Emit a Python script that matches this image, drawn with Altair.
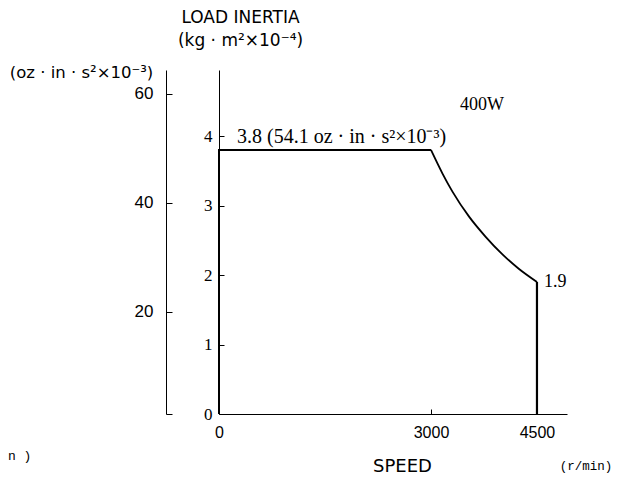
import altair as alt
import pandas as pd

# ---- data ----
# envelope: left edge, flat top, falling curve, right edge
speed = [0, 0, 3000, 3163, 3304, 3539, 3774, 4008, 4242, 4500, 4500]
inertia = [0, 3.8, 3.8, 3.46, 3.20, 2.84, 2.55, 2.30, 2.09, 1.9, 0]
curve_first, curve_last = 2, 9   # indices of the curved part

x_ticks = [0, 3000, 4500]
kg_ticks = [0, 1, 2, 3, 4]
oz_ticks = [1.28, 20, 40, 60]

note_texts = ["3.8 (54.1 oz · in · s²×10⁻³)", "400W", "1.9", "(r/min)", "n )"]
note_speed = [255, 3722, 4500, 5193, -2986]
note_inertia = [3.99, 4.45, 1.9, -0.75, -0.60]
note_fonts = ["Liberation Serif", "Liberation Serif", "Liberation Serif", "Liberation Mono", "Liberation Mono"]
note_sizes = [20, 18, 18, 12.5, 13]
note_align = ["left", "center", "left", "center", "left"]
note_dx = [0, 0, 7, 0, 0]

X_DOMAIN = [0, 4925]
KG_DOMAIN = [0, 4.95]
OZ_DOMAIN = [1.28, 64.4]

W, H = 348, 344

xscale = alt.Scale(domain=X_DOMAIN, nice=False, zero=False)
kgscale = alt.Scale(domain=KG_DOMAIN, nice=False, zero=False)
ozscale = alt.Scale(domain=OZ_DOMAIN, nice=False, zero=False)

idx = list(range(len(speed)))
part = ["curve" if curve_first <= i <= curve_last else "edge" for i in idx]
env_df = pd.DataFrame({"speed": speed, "inertia": inertia, "i": idx, "part": part})

x_axis = alt.Axis(
    orient="top", offset=-H, values=x_ticks, tickSize=5, labelPadding=-23,
    labelBaseline="middle", labelAlign="center", labelFlush=False, labelOverlap=False,
    labelFont="Liberation Sans", labelFontSize=16, labelColor="black", format="d",
    domainColor="black", tickColor="black", grid=False,
    title="SPEED", titleX=183, titleY=52, titleAlign="center", titleBaseline="middle",
    titleAngle=0, titleFont="DejaVu Sans", titleFontSize=18, titleFontWeight="normal",
    titleColor="black",
)

kg_axis = alt.Axis(
    orient="right", offset=-W, values=kg_ticks, tickSize=5, labelPadding=-12,
    labelAlign="right", labelBaseline="middle", labelFlush=False, labelOverlap=False,
    labelFont="Liberation Serif", labelFontSize=17, labelColor="black", format="d",
    domainColor="black", tickColor="black", grid=False,
    title=["LOAD INERTIA", "(kg · m²×10⁻⁴)"], titleAngle=0, titleX=21, titleY=-61,
    titleAlign="center", titleBaseline="top", titleLineHeight=23,
    titleFont="DejaVu Sans", titleFontSize=17, titleFontWeight="normal", titleColor="black",
)

oz_axis = alt.Axis(
    orient="right", offset=-(W + 53), values=oz_ticks, tickSize=6, labelPadding=-19,
    labelAlign="right", labelBaseline="middle", labelFlush=False, labelOverlap=False,
    labelExpr="datum.value < 10 ? '' : datum.label",
    labelFont="Liberation Sans", labelFontSize=17, labelColor="black", format="d",
    domainColor="black", tickColor="black", grid=False,
    title="(oz · in · s²×10⁻³)", titleAngle=0, titleX=-85, titleY=2,
    titleAlign="center", titleBaseline="middle",
    titleFont="DejaVu Sans", titleFontSize=16.5, titleFontWeight="normal", titleColor="black",
)

base = alt.Chart(env_df).encode(
    x=alt.X("speed:Q", scale=xscale, axis=x_axis),
    y=alt.Y("inertia:Q", scale=kgscale, axis=kg_axis),
    order="i:Q",
)
# straight edges (left side + flat top, right side) drawn linearly
edges_left = base.transform_filter(f"datum.i <= {curve_first}").mark_line(color="black", strokeWidth=2)
edges_right = base.transform_filter(f"datum.i >= {curve_last}").mark_line(color="black", strokeWidth=2.2)
curve = base.transform_filter("datum.part == 'curve'").mark_line(
    color="black", strokeWidth=1.8, interpolate="monotone"
)

notes = []
for t, s, v, f, fs, al, dx in zip(note_texts, note_speed, note_inertia, note_fonts, note_sizes, note_align, note_dx):
    df = pd.DataFrame({"s": [s], "v": [v], "t": [t]})
    notes.append(
        alt.Chart(df).mark_text(font=f, fontSize=fs, align=al, baseline="middle", dx=dx, color="black").encode(
            x=alt.X("s:Q", scale=xscale, axis=x_axis),
            y=alt.Y("v:Q", scale=kgscale, axis=kg_axis),
            text="t:N",
        )
    )

inner = alt.layer(edges_left, curve, edges_right, *notes)

oz_df = pd.DataFrame({"oz": oz_ticks, "s": [0] * len(oz_ticks)})
outer = alt.Chart(oz_df).mark_point(opacity=0).encode(
    x=alt.X("s:Q", scale=xscale, axis=x_axis),
    y=alt.Y("oz:Q", scale=ozscale, axis=oz_axis),
)

chart = (
    alt.layer(inner, outer)
    .resolve_scale(y="independent")
    .properties(
        width=W, height=H,
        autosize=alt.AutoSizeParams(type="none"),
        padding={"left": 211, "top": 62, "right": 46, "bottom": 64},
        background="white",
    )
    .configure_view(stroke=None)
)

chart.save("out.html", embed_options={"renderer": "svg", "actions": False})
